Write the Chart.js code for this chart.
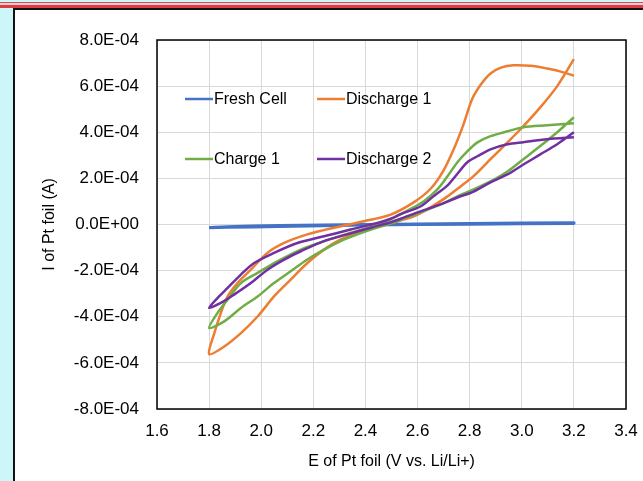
<!DOCTYPE html>
<html>
<head>
<meta charset="utf-8">
<script src="https://cdn.jsdelivr.net/npm/chart.js@4.4.0/dist/chart.umd.min.js"></script>
<style>
  html, body { margin: 0; padding: 0; }
  body { width: 643px; height: 481px; background: #cdf6fb; position: relative; overflow: hidden; }
  .red1 { position: absolute; left: 0; top: 2px; width: 643px; height: 1px; background: #e8474f; }
  .pink { position: absolute; left: 0; top: 3px; width: 643px; height: 2px; background: #f3d0d3; }
  .red2 { position: absolute; left: 0; top: 5px; width: 643px; height: 3px; background: #e03a44; }
  .frame { position: absolute; left: 13px; top: 8px; width: 640px; height: 480px; background: #fff;
           border-left: 2px solid #111; border-top: 2px solid #111; }
  #chart { position: absolute; left: 0; top: 0; }
</style>
</head>
<body>
<div class="red1"></div>
<div class="pink"></div>
<div class="red2"></div>
<div class="frame"></div>
<canvas id="chart" width="643" height="481"></canvas>
<script>
// axis ticks
const xTicks = [1.6, 1.8, 2.0, 2.2, 2.4, 2.6, 2.8, 3.0, 3.2, 3.4];
const xTickLabels = ['1.6', '1.8', '2.0', '2.2', '2.4', '2.6', '2.8', '3.0', '3.2', '3.4'];
const yTicks = [-8e-4, -6e-4, -4e-4, -2e-4, 0, 2e-4, 4e-4, 6e-4, 8e-4];
const yTickLabels = ['-8.0E-04', '-6.0E-04', '-4.0E-04', '-2.0E-04', '0.0E+00', '2.0E-04', '4.0E-04', '6.0E-04', '8.0E-04'];

const seriesNames = ['Fresh Cell', 'Discharge 1', 'Charge 1', 'Discharge 2'];
const seriesColors = ['#4472c4', '#ed7d31', '#70ad47', '#7030a0'];

// Fresh Cell
const freshV = [1.8, 1.87, 2.07, 2.4, 2.8, 3.2, 3.2, 2.8, 2.4, 2.07, 1.87, 1.8];
const freshI = [-1.3e-5, -1.0e-5, -0.5e-5, 0, 0.4e-5, 0.7e-5, 0.5e-5, 0.2e-5, -0.2e-5, -0.8e-5, -1.2e-5, -1.4e-5];

// Discharge 1
const dis1V = [3.2, 3.15, 3.098, 3.033, 2.968, 2.92, 2.88, 2.845, 2.81, 2.775, 2.74, 2.7, 2.65, 2.585, 2.497,
               2.394, 2.279, 2.177, 2.088, 2.024, 1.96, 1.909, 1.871, 1.845, 1.82, 1.8,
               1.858, 1.922, 1.986, 2.049, 2.113, 2.177, 2.241, 2.305, 2.369, 2.433, 2.5, 2.585, 2.65,
               2.715, 2.765, 2.815, 2.88, 2.945, 2.995, 3.071, 3.136, 3.2];
const dis1I = [6.45e-4, 6.63e-4, 6.76e-4, 6.88e-4, 6.9e-4, 6.8e-4, 6.55e-4, 6.1e-4, 5.45e-4, 4.3e-4, 3.3e-4, 2.35e-4, 1.55e-4, 0.96e-4, 4.3e-5,
               1.4e-5, -1.4e-5, -4.3e-5, -8.0e-5, -1.23e-4, -1.96e-4, -2.54e-4, -3.12e-4, -3.84e-4, -4.71e-4, -5.62e-4,
               -5.29e-4, -4.71e-4, -3.99e-4, -3.12e-4, -2.39e-4, -1.67e-4, -1.09e-4, -6.5e-5, -3.6e-5, -1.2e-5, 0.6e-5, 3.5e-5, 7.4e-5,
               1.22e-4, 1.65e-4, 2.1e-4, 2.83e-4, 3.56e-4, 4.13e-4, 5.08e-4, 6.0e-4, 7.17e-4];

// Charge 1
const chg1V = [3.2, 3.098, 3.006, 2.945, 2.88, 2.83, 2.791, 2.753, 2.715, 2.676, 2.623, 2.561, 2.5,
               2.446, 2.343, 2.241, 2.152, 2.062, 1.986, 1.922, 1.871, 1.832, 1.8,
               1.858, 1.922, 1.986, 2.049, 2.113, 2.177, 2.241, 2.305, 2.369, 2.433, 2.5, 2.561, 2.611,
               2.688, 2.753, 2.815, 2.88, 2.945, 3.006, 3.071, 3.136, 3.2];
const chg1I = [4.39e-4, 4.3e-4, 4.22e-4, 4.04e-4, 3.83e-4, 3.56e-4, 3.17e-4, 2.7e-4, 2.09e-4, 1.52e-4, 1.0e-4, 6.0e-5, 2.4e-5,
               -0.2e-5, -3.6e-5, -7.2e-5, -1.09e-4, -1.6e-4, -2.1e-4, -2.54e-4, -3.26e-4, -3.84e-4, -4.49e-4,
               -4.2e-4, -3.62e-4, -3.12e-4, -2.54e-4, -2.03e-4, -1.52e-4, -1.09e-4, -7.2e-5, -4.3e-5, -1.8e-5, 0.5e-5, 3.2e-5, 5.2e-5,
               8.7e-5, 1.22e-4, 1.52e-4, 1.87e-4, 2.3e-4, 2.83e-4, 3.4e-4, 4.0e-4, 4.65e-4];

// Discharge 2
const dis2V = [3.2, 3.098, 3.006, 2.945, 2.88, 2.83, 2.791, 2.753, 2.715, 2.661, 2.611, 2.535, 2.497,
               2.446, 2.343, 2.241, 2.139, 2.049, 1.973, 1.922, 1.871, 1.832, 1.8,
               1.845, 1.896, 1.96, 2.024, 2.088, 2.152, 2.241, 2.33, 2.42, 2.497, 2.535, 2.611, 2.688,
               2.753, 2.815, 2.88, 2.945, 3.006, 3.071, 3.136, 3.2];
const dis2I = [3.78e-4, 3.7e-4, 3.57e-4, 3.48e-4, 3.26e-4, 2.96e-4, 2.7e-4, 2.2e-4, 1.7e-4, 1.22e-4, 7.8e-5, 4.5e-5, 2.5e-5,
               0.7e-5, -2.2e-5, -5.1e-5, -8.0e-5, -1.23e-4, -1.67e-4, -2.17e-4, -2.75e-4, -3.19e-4, -3.62e-4,
               -3.4e-4, -3.04e-4, -2.54e-4, -1.96e-4, -1.52e-4, -1.16e-4, -7.2e-5, -4.3e-5, -1.4e-5, 1.0e-5, 2.5e-5, 5.7e-5, 8.7e-5,
               1.17e-4, 1.43e-4, 1.83e-4, 2.17e-4, 2.6e-4, 3.04e-4, 3.48e-4, 4.0e-4];

const font = "'Liberation Sans', Arial, sans-serif";

function toPoints(vs, is) {
    return vs.map((v, i) => ({ x: v, y: is[i] }));
}

const allV = [freshV, dis1V, chg1V, dis2V];
const allI = [freshI, dis1I, chg1I, dis2I];

const datasets = seriesNames.map((name, k) => ({
    label: name,
    data: toPoints(allV[k], allI[k]),
    borderColor: seriesColors[k],
    backgroundColor: seriesColors[k],
    borderWidth: k === 0 ? 3.2 : 2.5,
    showLine: true,
    pointRadius: 0,
    tension: 0.3,
    order: 4 - k
}));

// legend drawn inside the plot, two rows of two
const insideLegend = {
    id: 'insideLegend',
    afterDatasetsDraw(chart) {
        const ctx = chart.ctx;
        const a = chart.chartArea;
        const cols = [28, 160];
        const rows = [59, 119];
        ctx.save();
        ctx.font = '16px ' + font;
        ctx.textBaseline = 'middle';
        ctx.fillStyle = '#000';
        seriesNames.forEach((name, k) => {
            const x = a.left + cols[k % 2];
            const y = a.top + rows[Math.floor(k / 2)];
            ctx.strokeStyle = seriesColors[k];
            ctx.lineWidth = 2.5;
            ctx.beginPath();
            ctx.moveTo(x, y);
            ctx.lineTo(x + 28, y);
            ctx.stroke();
            ctx.fillText(name, x + 29, y + 1);
        });
        ctx.restore();
    },
    afterDraw(chart) {
        const ctx = chart.ctx;
        const a = chart.chartArea;
        ctx.save();
        ctx.strokeStyle = '#000';
        ctx.lineWidth = 1.5;
        ctx.strokeRect(a.left, a.top, a.right - a.left, a.bottom - a.top);
        ctx.restore();
    }
};

new Chart(document.getElementById('chart').getContext('2d'), {
    type: 'scatter',
    data: { datasets: datasets },
    options: {
        responsive: false,
        animation: false,
        layout: { padding: { left: 0, top: 40, right: 17, bottom: 0 } },
        plugins: {
            legend: { display: false },
            tooltip: { enabled: false }
        },
        scales: {
            x: {
                type: 'linear',
                min: 1.6,
                max: 3.4,
                afterBuildTicks: (scale) => { scale.ticks = xTicks.map(v => ({ value: v })); },
                afterFit: (scale) => {
                    scale.height = 72;
                    scale.paddingLeft = 0;
                    scale.paddingRight = 0;
                },
                ticks: {
                    color: '#000',
                    font: { family: font, size: 17 },
                    padding: 12,
                    maxRotation: 0,
                    callback: (v, i) => xTickLabels[i]
                },
                grid: { color: '#d9d9d9', lineWidth: 1, drawTicks: false },
                border: { display: false },
                title: {
                    display: true,
                    text: 'E of Pt foil (V vs. Li/Li+)',
                    color: '#000',
                    font: { family: font, size: 16 },
                    padding: { top: 0, bottom: 10 }
                }
            },
            y: {
                type: 'linear',
                min: -8e-4,
                max: 8e-4,
                afterBuildTicks: (scale) => { scale.ticks = yTicks.map(v => ({ value: v })); },
                afterFit: (scale) => { scale.width = 157; },
                ticks: {
                    color: '#000',
                    font: { family: font, size: 17 },
                    padding: 18,
                    callback: (v, i) => yTickLabels[i]
                },
                grid: { color: '#d9d9d9', lineWidth: 1, drawTicks: false },
                border: { display: false },
                title: {
                    display: true,
                    text: 'I of Pt foil (A)',
                    color: '#000',
                    font: { family: font, size: 16 },
                    padding: { top: 40, bottom: 0 }
                }
            }
        }
    },
    plugins: [insideLegend]
});
</script>
</body>
</html>
